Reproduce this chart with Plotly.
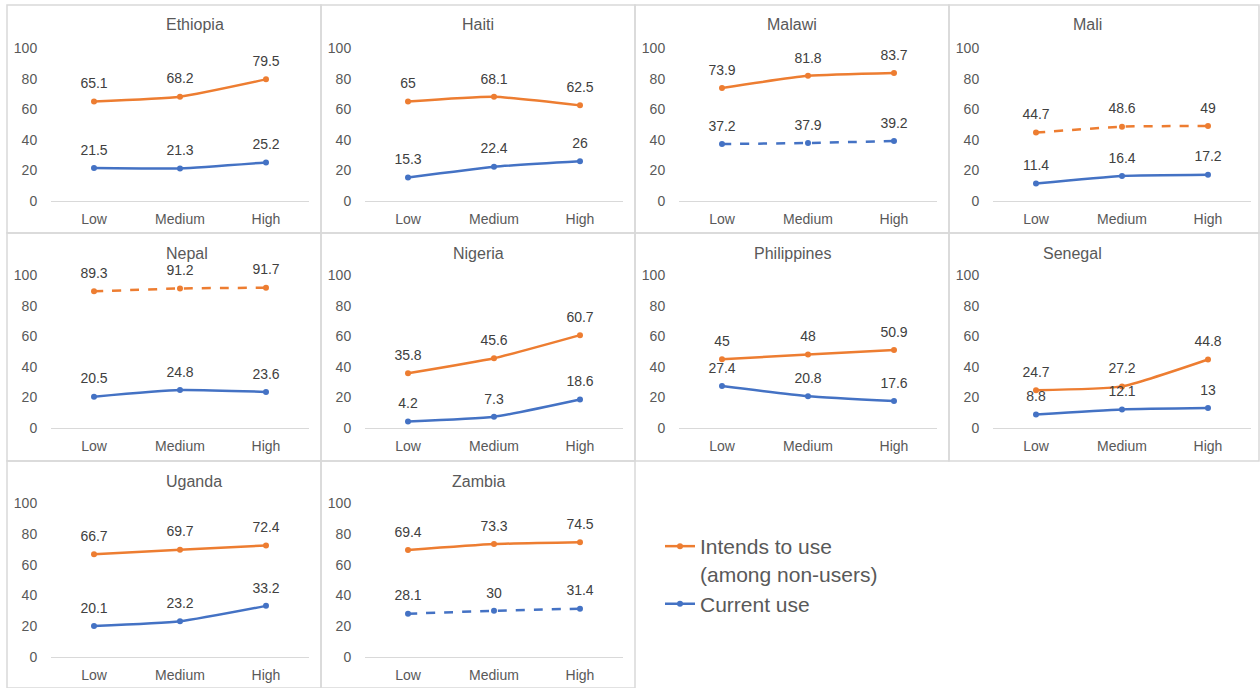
import plotly.graph_objects as go

# Wealth tercile categories shared by every panel
levels = ["Low", "Medium", "High"]

countries = ["Ethiopia", "Haiti", "Malawi", "Mali", "Nepal",
             "Nigeria", "Philippines", "Senegal", "Uganda", "Zambia"]

# Intends to use (among non-users), %
intends = {
    "Ethiopia": [65.1, 68.2, 79.5],
    "Haiti": [65, 68.1, 62.5],
    "Malawi": [73.9, 81.8, 83.7],
    "Mali": [44.7, 48.6, 49],
    "Nepal": [89.3, 91.2, 91.7],
    "Nigeria": [35.8, 45.6, 60.7],
    "Philippines": [45, 48, 50.9],
    "Senegal": [24.7, 27.2, 44.8],
    "Uganda": [66.7, 69.7, 72.4],
    "Zambia": [69.4, 73.3, 74.5],
}

# Current use, %
current = {
    "Ethiopia": [21.5, 21.3, 25.2],
    "Haiti": [15.3, 22.4, 26],
    "Malawi": [37.2, 37.9, 39.2],
    "Mali": [11.4, 16.4, 17.2],
    "Nepal": [20.5, 24.8, 23.6],
    "Nigeria": [4.2, 7.3, 18.6],
    "Philippines": [27.4, 20.8, 17.6],
    "Senegal": [8.8, 12.1, 13],
    "Uganda": [20.1, 23.2, 33.2],
    "Zambia": [28.1, 30, 31.4],
}

# Series drawn dashed in a given panel
dashed_intends = {"Mali", "Nepal"}
dashed_current = {"Malawi", "Zambia"}

W, H = 1260, 688
ORANGE = "#ED7D31"
BLUE = "#4472C4"
FONT = "Liberation Sans, Arial, sans-serif"

# Panel geometry in pixels
col_plot_left = [51, 365, 679, 993]
plot_w = 258
row_plot = [(48, 201), (275, 428), (503, 657)]
col_box = [(7, 321), (321, 635), (635, 949), (949, 1259)]
row_box = [(5, 233), (233, 461), (461, 688)]


def px_x(v):
    return v / W


def px_y(v):
    return 1 - v / H


fig = go.Figure()
shapes = []
annotations = []
layout_axes = {}

for i, c in enumerate(countries):
    r, k = divmod(i, 4)
    n = i + 1
    xa = "x" if n == 1 else f"x{n}"
    ya = "y" if n == 1 else f"y{n}"
    xkey = "xaxis" if n == 1 else f"xaxis{n}"
    ykey = "yaxis" if n == 1 else f"yaxis{n}"

    left = col_plot_left[k]
    top, bottom = row_plot[r]
    layout_axes[xkey] = dict(
        domain=[px_x(left), px_x(left + plot_w)],
        anchor=ya, type="category", range=[-0.5, 2.5],
        showgrid=False, zeroline=False, showline=True,
        linecolor="#D9D9D9", linewidth=1, automargin=False,
        ticks="outside", ticklen=5, tickcolor="rgba(0,0,0,0)",
        tickfont=dict(family=FONT, size=14, color="#595959"),
        fixedrange=True,
    )
    layout_axes[ykey] = dict(
        domain=[px_y(bottom), px_y(top)],
        anchor=xa, range=[0, 100], tickvals=[0, 20, 40, 60, 80, 100],
        showgrid=False, zeroline=False, showline=False, automargin=False,
        ticks="outside", ticklen=10, tickcolor="rgba(0,0,0,0)",
        tickfont=dict(family=FONT, size=14, color="#595959"),
        fixedrange=True,
    )

    for vals, color, name, dashed in (
        (intends[c], ORANGE, "Intends to use<br>(among non-users)", c in dashed_intends),
        (current[c], BLUE, "Current use", c in dashed_current),
    ):
        fig.add_trace(go.Scatter(
            x=levels, y=vals, xaxis=xa, yaxis=ya,
            mode="lines+markers",
            line=dict(color=color, width=2.5, shape="spline", smoothing=0.5,
                      dash="dash" if dashed else "solid"),
            marker=dict(color=color, size=6),
            cliponaxis=False, name=name, showlegend=(i == 0),
            legendgroup=name, hoverinfo="skip",
        ))
        # value labels, set a little above each point
        fig.add_trace(go.Scatter(
            x=levels, y=vals, xaxis=xa, yaxis=ya,
            mode="markers+text",
            text=[f"{v:g}" for v in vals], textposition="top center",
            textfont=dict(family=FONT, size=14, color="#404040"),
            marker=dict(size=14, color="rgba(0,0,0,0)"),
            cliponaxis=False, showlegend=False, hoverinfo="skip",
        ))

    bx0, bx1 = col_box[k]
    by0, by1 = row_box[r]
    shapes.append(dict(type="rect", xref="paper", yref="paper",
                       x0=px_x(bx0), x1=px_x(bx1), y0=px_y(by1), y1=px_y(by0),
                       line=dict(color="#D9D9D9", width=1.5), layer="below"))
    annotations.append(dict(
        text=c, xref="paper", yref="paper", showarrow=False,
        x=px_x((bx0 + bx1) / 2), y=px_y(by0 + 20), yanchor="middle",
        font=dict(family=FONT, size=16, color="#595959"),
    ))

fig.update_layout(
    width=W, height=H,
    margin=dict(l=0, r=0, t=0, b=0, pad=0, autoexpand=False),
    paper_bgcolor="white", plot_bgcolor="white",
    shapes=shapes, annotations=annotations,
    showlegend=True,
    legend=dict(x=px_x(660), y=px_y(526), xanchor="left", yanchor="top",
                font=dict(family=FONT, size=21, color="#595959"),
                itemwidth=30, valign="top", tracegroupgap=0,
                bgcolor="rgba(0,0,0,0)"),
    **layout_axes,
)

fig.write_html("out.html")
